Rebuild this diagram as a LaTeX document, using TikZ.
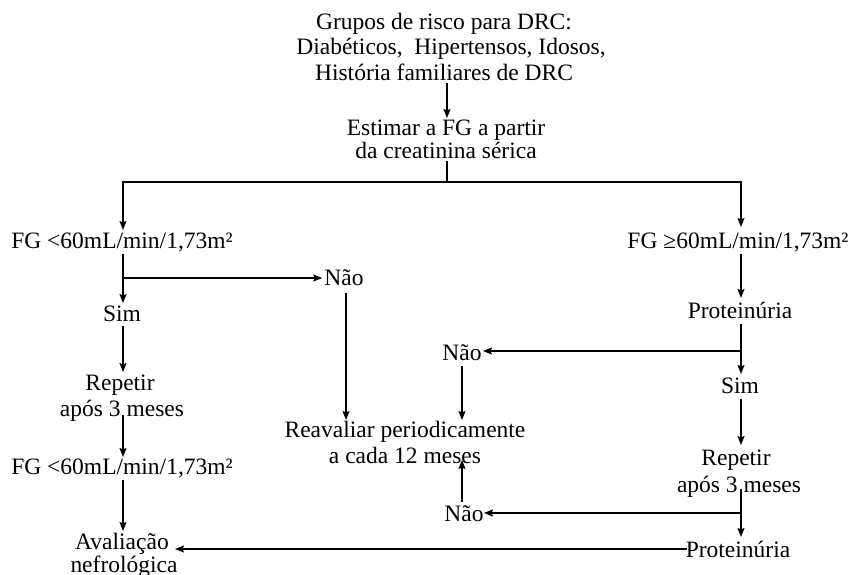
\documentclass[tikz,border=0pt]{standalone}
\usepackage{fontspec}
\setmainfont{Liberation Serif}
\usetikzlibrary{arrows.meta,calc}
\begin{document}
\begin{tikzpicture}[x=1pt,y=-1pt,
  lbl/.style={inner sep=0pt,text height=15pt,text depth=5pt,anchor=base,font=\fontsize{23.5}{26}\selectfont},
  arr/.style={-{Stealth[length=9pt,width=7pt,inset=1.5pt]},line width=1.1pt},
  ln/.style={line width=1.1pt}]
\useasboundingbox[fill=white] (0,0) rectangle (855,575);
% nodes
\node[lbl] (top1) at (444,30) {Grupos de risco para DRC:};
\node[lbl] (top2) at (451,55) {Diabéticos,\ \ Hipertensos, Idosos,};
\node[lbl] (top3) at (444,81) {História familiares de DRC};
\node[lbl] (est1) at (446,136) {Estimar a FG a partir};
\node[lbl] (est2) at (446,159) {da creatinina sérica};
\node[lbl] (fgl) at (122,248) {FG <60mL/min/1,73m²};
\node[lbl] (fgr) at (738,248) {FG ≥60mL/min/1,73m²};
\node[lbl] (naoA) at (344,285) {Não};
\node[lbl] (simL) at (122,321) {Sim};
\node[lbl] (repL1) at (120,390) {Repetir};
\node[lbl] (repL2) at (122,416) {após 3 meses};
\node[lbl] (fgl2) at (122,474) {FG <60mL/min/1,73m²};
\node[lbl] (avl1) at (122,549) {Avaliação};
\node[lbl] (avl2) at (124,572) {nefrológica};
\node[lbl] (rea1) at (405,437) {Reavaliar periodicamente};
\node[lbl] (rea2) at (405,463) {a cada 12 meses};
\node[lbl] (protR) at (740,318) {Proteinúria};
\node[lbl] (naoB) at (462,360) {Não};
\node[lbl] (simR) at (740,393) {Sim};
\node[lbl] (repR1) at (736,465) {Repetir};
\node[lbl] (repR2) at (739,492) {após 3 meses};
\node[lbl] (naoC) at (464,521) {Não};
\node[lbl] (protR2) at (738,557) {Proteinúria};
% connectors
\coordinate (jn) at ($(est2.base)+(1,23)$);
\draw[arr] ($(top3.base)+(3,2)$) -- ($(est1.base)+(1,-18)$);
\draw[ln] ($(est2.base)+(1,2)$) -- (jn);
\draw[arr] (jn) -| ($(fgl.base)+(1,-18)$);
\draw[arr] (jn) -| ($(fgr.base)+(3,-21)$);
% left column
\draw[arr] ($(fgl.base)+(1,6)$) -- ($(simL.base)+(1,-18)$);
\coordinate (bA) at ($(fgl.base)+(1,30)$);
\draw[arr] (bA) -- ($(bA -| naoA.west)+(-2,0)$);
\draw[arr] ($(naoA.base)+(2,8)$) -- ($(naoA.base |- rea1.base)+(2,-17)$);
\draw[arr] ($(simL.base)+(1,5)$) -- ($(repL1.base)+(3,-18)$);
\draw[arr] ($(repL2.base)+(1,-1)$) -- ($(fgl2.base)+(1,-17)$);
\draw[arr] ($(fgl2.base)+(1,6)$) -- ($(avl1.base)+(1,-18)$);
% right column
\draw[arr] ($(fgr.base)+(3,6)$) -- ($(protR.base)+(1,-20)$);
\draw[arr] ($(protR.base)+(1,6)$) -- ($(simR.base)+(1,-19)$);
\coordinate (bB) at ($(protR.base)+(1,33)$);
\draw[arr] (bB) -- ($(naoB.base)+(21,-9)$);
\draw[arr] ($(naoB.base)+(0,6)$) -- ($(naoB.base |- rea1.base)+(0,-17)$);
\draw[arr] ($(simR.base)+(1,6)$) -- ($(repR1.base)+(5,-20)$);
\draw[arr] ($(repR2.base)+(2,-3)$) -- ($(protR2.base)+(3,-20)$);
\coordinate (bC) at ($(repR2.base)+(2,21)$);
\draw[arr] (bC) -- ($(naoC.base)+(20,-8)$);
\draw[arr] ($(naoC.base)+(-2,-19)$) -- ($(naoC.base |- rea2.base)+(-2,-3)$);
\draw[arr] ($(protR2.base)+(-51,-8)$) -- ($(avl1.base)+(53,0)$);
\end{tikzpicture}
\end{document}
